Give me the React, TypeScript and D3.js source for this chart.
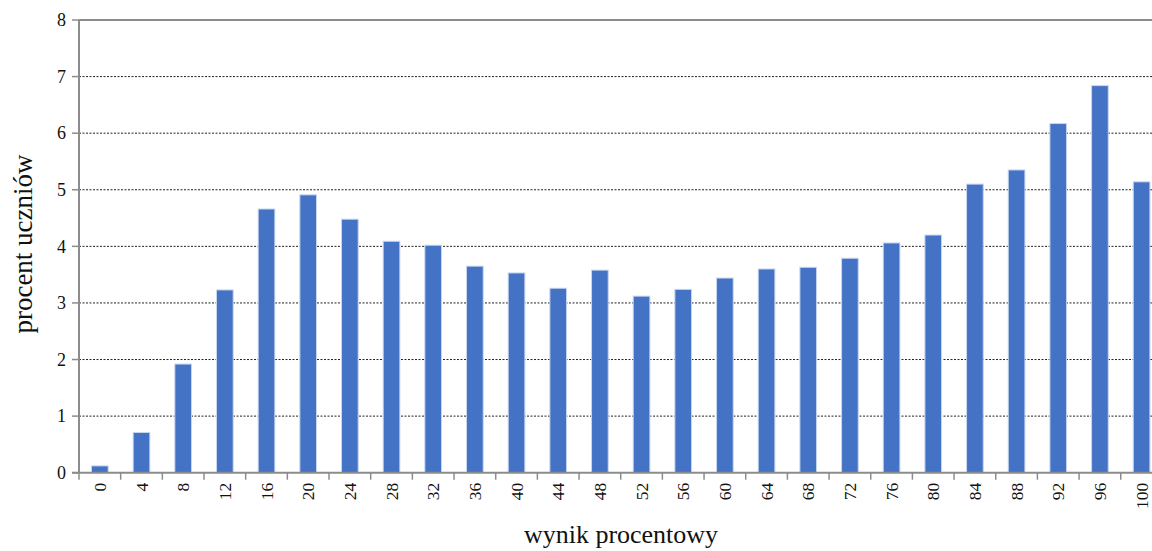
import React from "react";
import * as d3 from "d3";

const categories: string[] = ["0","4","8","12","16","20","24","28","32","36","40","44","48","52","56","60","64","68","72","76","80","84","88","92","96","100"];
const values: number[] = [0.12,0.71,1.92,3.23,4.66,4.91,4.48,4.09,4.02,3.65,3.53,3.26,3.58,3.12,3.24,3.44,3.6,3.63,3.79,4.06,4.2,5.1,5.35,6.17,6.84,5.14];
const yTicks: number[] = [0,1,2,3,4,5,6,7,8];
const yTitle = "procent uczniów";
const xTitle = "wynik procentowy";

const W = 1152, H = 551;
const left = 79, top = 20, bottom = 472.7;
const bandW = 41.67;
const right = left + bandW * categories.length;

export default function App() {
  const x = d3.scaleBand<string>().domain(categories).range([left, right]).paddingInner(0.6).paddingOuter(0.3);
  const y = d3.scaleLinear().domain([0, 8]).range([bottom, top]);
  const font = "'Liberation Serif', 'Times New Roman', serif";
  const step = x.step();
  return (
    <svg width={W} height={H} style={{ position: "absolute", left: 0, top: 0, background: "#fff" }} fontFamily={font}>
      {yTicks.filter(t => t > 0 && t < 8).map(t => (
        <line key={"g" + t} x1={left} x2={W} y1={y(t)} y2={y(t)} stroke="#222" strokeWidth={1} strokeDasharray="2,1.5" />
      ))}
      <line x1={left} x2={W} y1={y(8)} y2={y(8)} stroke="#8c8c8c" strokeWidth={2} />
      {categories.map((c, i) => (
        <rect key={c} x={x(c)!} y={y(values[i])} width={x.bandwidth()} height={y(0) - y(values[i])} fill="#4472C4" stroke="#c8d6ef" strokeWidth={1} />
      ))}
      <line x1={left} x2={left} y1={top} y2={bottom} stroke="#8c8c8c" strokeWidth={2} />
      <line x1={left - 7} x2={W} y1={bottom} y2={bottom} stroke="#8c8c8c" strokeWidth={2} />
      {yTicks.map(t => (
        <g key={"y" + t}>
          <line x1={left - 7} x2={left} y1={y(t)} y2={y(t)} stroke="#8c8c8c" strokeWidth={1.5} />
          <text x={left - 13} y={y(t)} dy="0.35em" textAnchor="end" fontSize={18} fill="#111">{t}</text>
        </g>
      ))}
      {categories.map((c, i) => {
        const bx = left + i * step;
        return <line key={"t" + c} x1={bx} x2={bx} y1={bottom} y2={bottom + 7} stroke="#8c8c8c" strokeWidth={1.5} />;
      })}
      {categories.map(c => {
        const cx = x(c)! + x.bandwidth() / 2;
        return (
          <text key={"l" + c} transform={`translate(${cx},${bottom + 10}) rotate(-90)`} textAnchor="end" dy="0.35em" fontSize={17.5} fill="#111">{c}</text>
        );
      })}
      <text transform={`translate(32,244) rotate(-90)`} textAnchor="middle" fontSize={27} fill="#111">{yTitle}</text>
      <text x={621} y={543} textAnchor="middle" fontSize={26} fill="#111">{xTitle}</text>
    </svg>
  );
}
